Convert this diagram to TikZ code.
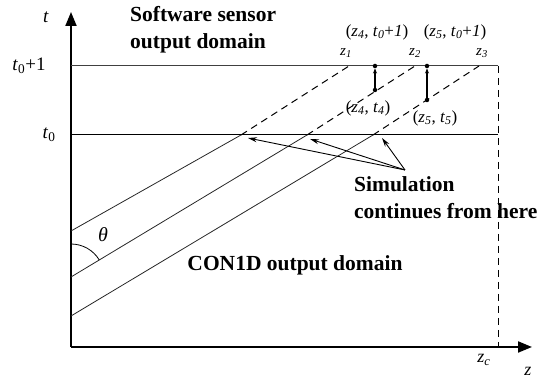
\documentclass[tikz,border=0pt]{standalone}
\usepackage{fontspec}
\setmainfont{Liberation Serif}
\usetikzlibrary{arrows.meta,calc}
\begin{document}
\begin{tikzpicture}[x=1pt,y=1pt,
  axisline/.style={line width=2pt,-{Triangle[length=14pt,width=11pt]}},
  levelline/.style={line width=1pt},
  diagline/.style={line width=0.8pt,black!85},
  dashline/.style={line width=1pt,dash pattern=on 7pt off 5pt},
  bigtxt/.style={font=\fontsize{21.5}{27}\selectfont\bfseries,align=left,inner sep=0pt},
  axlbl/.style={font=\fontsize{19}{22}\selectfont,inner sep=0pt},
  smlbl/.style={font=\fontsize{15}{16}\selectfont,inner sep=0pt},
  ptlbl/.style={font=\fontsize{17}{19}\selectfont,inner sep=0pt},
  dot/.style={circle,fill=black,inner sep=0pt,minimum size=4.5pt},
  pointer/.style={line width=0.9pt,-{Stealth[length=9pt,width=5pt]}},
  uparrow/.style={line width=1.2pt,-{Stealth[length=5pt,width=4pt]}}
]
\useasboundingbox (0,0) rectangle (542,379);
% axes
\coordinate (O) at (71,32);
\coordinate (Ytop) at (71,367);
\coordinate (Xend) at (532,32);
\draw[axisline] (O) -- (Ytop);
\draw[axisline] (O) -- (Xend);
% level lines
\coordinate (L1a) at (71,313); \coordinate (L1b) at (498,313);
\coordinate (L0a) at (71,244); \coordinate (L0b) at (498,244);
\coordinate (Zc) at (498,32);
\draw[levelline,black!75] (L1a) -- (L1b);
\draw[levelline] (L0a) -- (L0b);
\draw[dashline] (L1b) -- (Zc);
% diagonal lines
\coordinate (A1) at (71,148); \coordinate (C1) at (241,244); \coordinate (T1) at (349,313);
\coordinate (A2) at (71,102); \coordinate (C2) at (307,244); \coordinate (T2) at (415,313);
\coordinate (A3) at (71,63);  \coordinate (C3) at (373,244); \coordinate (T3) at (479,313);
\draw[diagline] (A1) -- (C1);
\draw[diagline] (A2) -- (C2);
\draw[diagline] (A3) -- (C3);
\draw[dashline] (C1) -- (T1);
\draw[dashline] (C2) -- (T2);
\draw[dashline] (C3) -- (T3);
% angle theta
\draw[line width=0.8pt] (71,135) arc[start angle=90,end angle=31,radius=33];
\node[axlbl,font=\fontsize{20}{22}\selectfont\itshape] (theta) at (103,144) {θ};
% moved points
\node[dot] (p4b) at (375,289) {};
\node[dot] (p4t) at (375,313) {};
\node[dot] (p5b) at (427,279) {};
\node[dot] (p5t) at (427,313) {};
\draw[uparrow] (p4b) -- (p4t);
\draw[uparrow] (p5b) -- (p5t);
% axis labels
\node[axlbl] (tl) at (46,362) {\textit{t}};
\node[axlbl] (t1) at (29,313) {\textit{t}\textsubscript{0}+1};
\node[axlbl] (t0) at (49,244) {\textit{t}\textsubscript{0}};
\node[axlbl,font=\fontsize{18}{20}\selectfont] (zcl) at (484,19) {\textit{z}\textsubscript{\textit{c}}};
\node[axlbl,font=\fontsize{18}{20}\selectfont] (zl) at (528,8) {\textit{z}};
% z labels
\node[smlbl] (z1) at (346,326) {\textit{z}\textsubscript{\textit{1}}};
\node[smlbl] (z2) at (415,326) {\textit{z}\textsubscript{\textit{2}}};
\node[smlbl] (z3) at (482,326) {\textit{z}\textsubscript{\textit{3}}};
\node[ptlbl] (q4) at (377,347) {(\textit{z}\textsubscript{\textit{4}}, \textit{t}\textsubscript{\textit{0}}+\textit{1})};
\node[ptlbl] (q5) at (455,347) {(\textit{z}\textsubscript{\textit{5}}, \textit{t}\textsubscript{\textit{0}}+\textit{1})};
\node[ptlbl] (r4) at (368,271) {(\textit{z}\textsubscript{\textit{4}}, \textit{t}\textsubscript{\textit{4}})};
\node[ptlbl] (r5) at (435,261) {(\textit{z}\textsubscript{\textit{5}}, \textit{t}\textsubscript{\textit{5}})};
% domain texts
\node[bigtxt,anchor=west] (sw) at (130,349) {Software sensor\\ output domain};
\node[bigtxt] (con) at (295,114) {CON1D output domain};
\node[bigtxt,anchor=west] (sim) at (354,181) {Simulation\\continues from here};
% pointers
\coordinate (S) at (405,209);
\coordinate (E1) at (248,241);
\coordinate (E2) at (310,240);
\coordinate (E3) at (382,241);
\draw[pointer] (S) -- (E1);
\draw[pointer] (S) -- (E2);
\draw[pointer] (S) -- (E3);
\end{tikzpicture}
\end{document}
